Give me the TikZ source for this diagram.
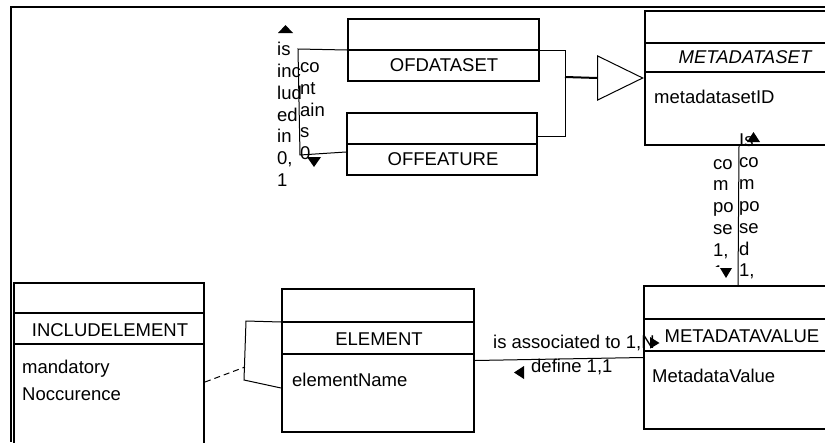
\documentclass[tikz,border=0pt]{standalone}
\usepackage{fontspec}
\setmainfont{Liberation Sans}
\usetikzlibrary{positioning,shapes.geometric}

\begin{document}
\begin{tikzpicture}[x=1pt, y=-1pt, font=\fontsize{18.5}{21.8}\selectfont,
  classbox/.style={draw, line width=2pt, rectangle, inner sep=0pt, anchor=north west},
  cname/.style={anchor=base, inner sep=0pt},
  cattr/.style={anchor=base west, inner sep=0pt},
  stack/.style={align=left, inner sep=0pt, anchor=north west},
  link/.style={line width=1pt}]
  \useasboundingbox (0,0) rectangle (825,442);
  \clip (0,0) rectangle (825,442);

  % frame
  \draw[line width=2pt] (10,7) -- (825,7);
  \draw[line width=2pt] (11,7) -- (11,442);

  % classes
  \node[classbox, minimum width=191pt, minimum height=62pt] (ofdataset) at (347,18) {};
  \draw[line width=2pt] (ofdataset.west |- 0,50) -- (ofdataset.east |- 0,50);
  \node[cname] (ofdatasetName) at (444,71.7) {OFDATASET};

  \node[classbox, minimum width=190pt, minimum height=62pt] (offeature) at (346,112) {};
  \draw[line width=2pt] (offeature.west |- 0,144) -- (offeature.east |- 0,144);
  \node[cname] (offeatureName) at (443,165.7) {OFFEATURE};

  \node[classbox, minimum width=202pt, minimum height=134pt] (mds) at (644,10) {};
  \draw[line width=2pt] (mds.west |- 0,43) -- (mds.east |- 0,43);
  \draw[line width=2pt] (mds.west |- 0,72) -- (mds.east |- 0,72);
  \node[cname] (mdsName) at (745,63.3) {\itshape METADATASET};
  \node[cattr] (mdsId) at (654,103) {metadatasetID};

  \node[classbox, minimum width=199pt, minimum height=143pt] (mdv) at (643,285) {};
  \draw[line width=2pt] (mdv.west |- 0,319) -- (mdv.east |- 0,319);
  \draw[line width=2pt] (mdv.west |- 0,351) -- (mdv.east |- 0,351);
  \node[cname] (mdvName) at (742,342) {METADATAVALUE};
  \node[cattr] (mdvValue) at (652,382.6) {MetadataValue};

  \node[classbox, minimum width=192pt, minimum height=143pt] (element) at (281,288) {};
  \draw[line width=2pt] (element.west |- 0,322) -- (element.east |- 0,322);
  \draw[line width=2pt] (element.west |- 0,354) -- (element.east |- 0,354);
  \node[cname] (elementName) at (379,345) {ELEMENT};
  \node[cattr] (elementAttr) at (292,386) {elementName};

  \node[classbox, minimum width=190pt, minimum height=170pt] (incl) at (13,282) {};
  \draw[line width=2pt] (incl.west |- 0,313) -- (incl.east |- 0,313);
  \draw[line width=2pt] (incl.west |- 0,344) -- (incl.east |- 0,344);
  \node[cname] (inclName) at (110,336) {INCLUDELEMENT};
  \node[cattr] (inclMand) at (22,373) {mandatory};
  \node[cattr] (inclOcc) at (22,400) {Noccurence};

  % generalization
  \node[draw, link, isosceles triangle, isosceles triangle stretches, inner sep=0pt,
        minimum width=44pt, minimum height=45pt, anchor=apex] (gen) at (mds.west) {};
  \coordinate (genJoin) at (565,77);
  \draw[link] (ofdataset.east) -- (ofdataset.east -| genJoin)
    -- ([yshift=8pt]offeature.east -| genJoin) -- ([yshift=8pt]offeature.east);
  \draw[line width=2pt] (genJoin) -- (gen.lower side);

  % is included in / contains
  \coordinate (inclTop) at (298,49);
  \coordinate (inclBot) at (300,155);
  \draw[link] (ofdataset.west) -- (inclTop) -- (inclBot) -- ([yshift=-8pt]offeature.west);
  \node[stack] (isIncluded) at (277,42.1) {is\\inc\\lud\\ed\\in\\0,\\1};
  \node[stack] (contains) at (300,62.4) {co\\nt\\ain\\s\\0};
  \fill (278,33) -- (293,33) -- (285.5,25) -- cycle;
  \fill (307,157) -- (321,157) -- (314,167) -- cycle;

  % is composed / compose
  \draw[link] ([xshift=95pt]mds.south west) -- ([xshift=95pt]mdv.north west);
  \node[stack] (isComposed) at (739,133.1) {Is\\co\\m\\po\\se\\d\\1,};
  \begin{scope}
    \clip (700,150) rectangle (737,266);
    \node[stack] (compose) at (713,159) {co\\m\\po\\se\\1,\\1};
  \end{scope}
  \fill (747,142) -- (760,142) -- (753.5,132) -- cycle;
  \fill (720,268) -- (732,268) -- (726,278) -- cycle;

  % is associated to / define
  \draw[link] (element.east) -- (mdv.west);
  \node[cattr] (assocTo) at (493,348.6) {is associated to 1,N};
  \node[cattr] (defines) at (531,372.7) {define 1,1};
  \fill (650,337) -- (650,348.6) -- (659.5,343) -- cycle;
  \fill (524,366) -- (524,379) -- (514,372.5) -- cycle;

  % includelement link
  \coordinate (elemTop) at (246,321);
  \coordinate (elemBot) at (244,380);
  \coordinate (inclLink) at (245,367);
  \draw[link] ([yshift=38.5pt]element.west) -- (elemTop) -- (elemBot) -- ([yshift=-27.5pt]element.west);
  \draw[link, dash pattern=on 6pt off 4pt] ([yshift=-14pt]incl.east) -- (inclLink);
\end{tikzpicture}
\end{document}
